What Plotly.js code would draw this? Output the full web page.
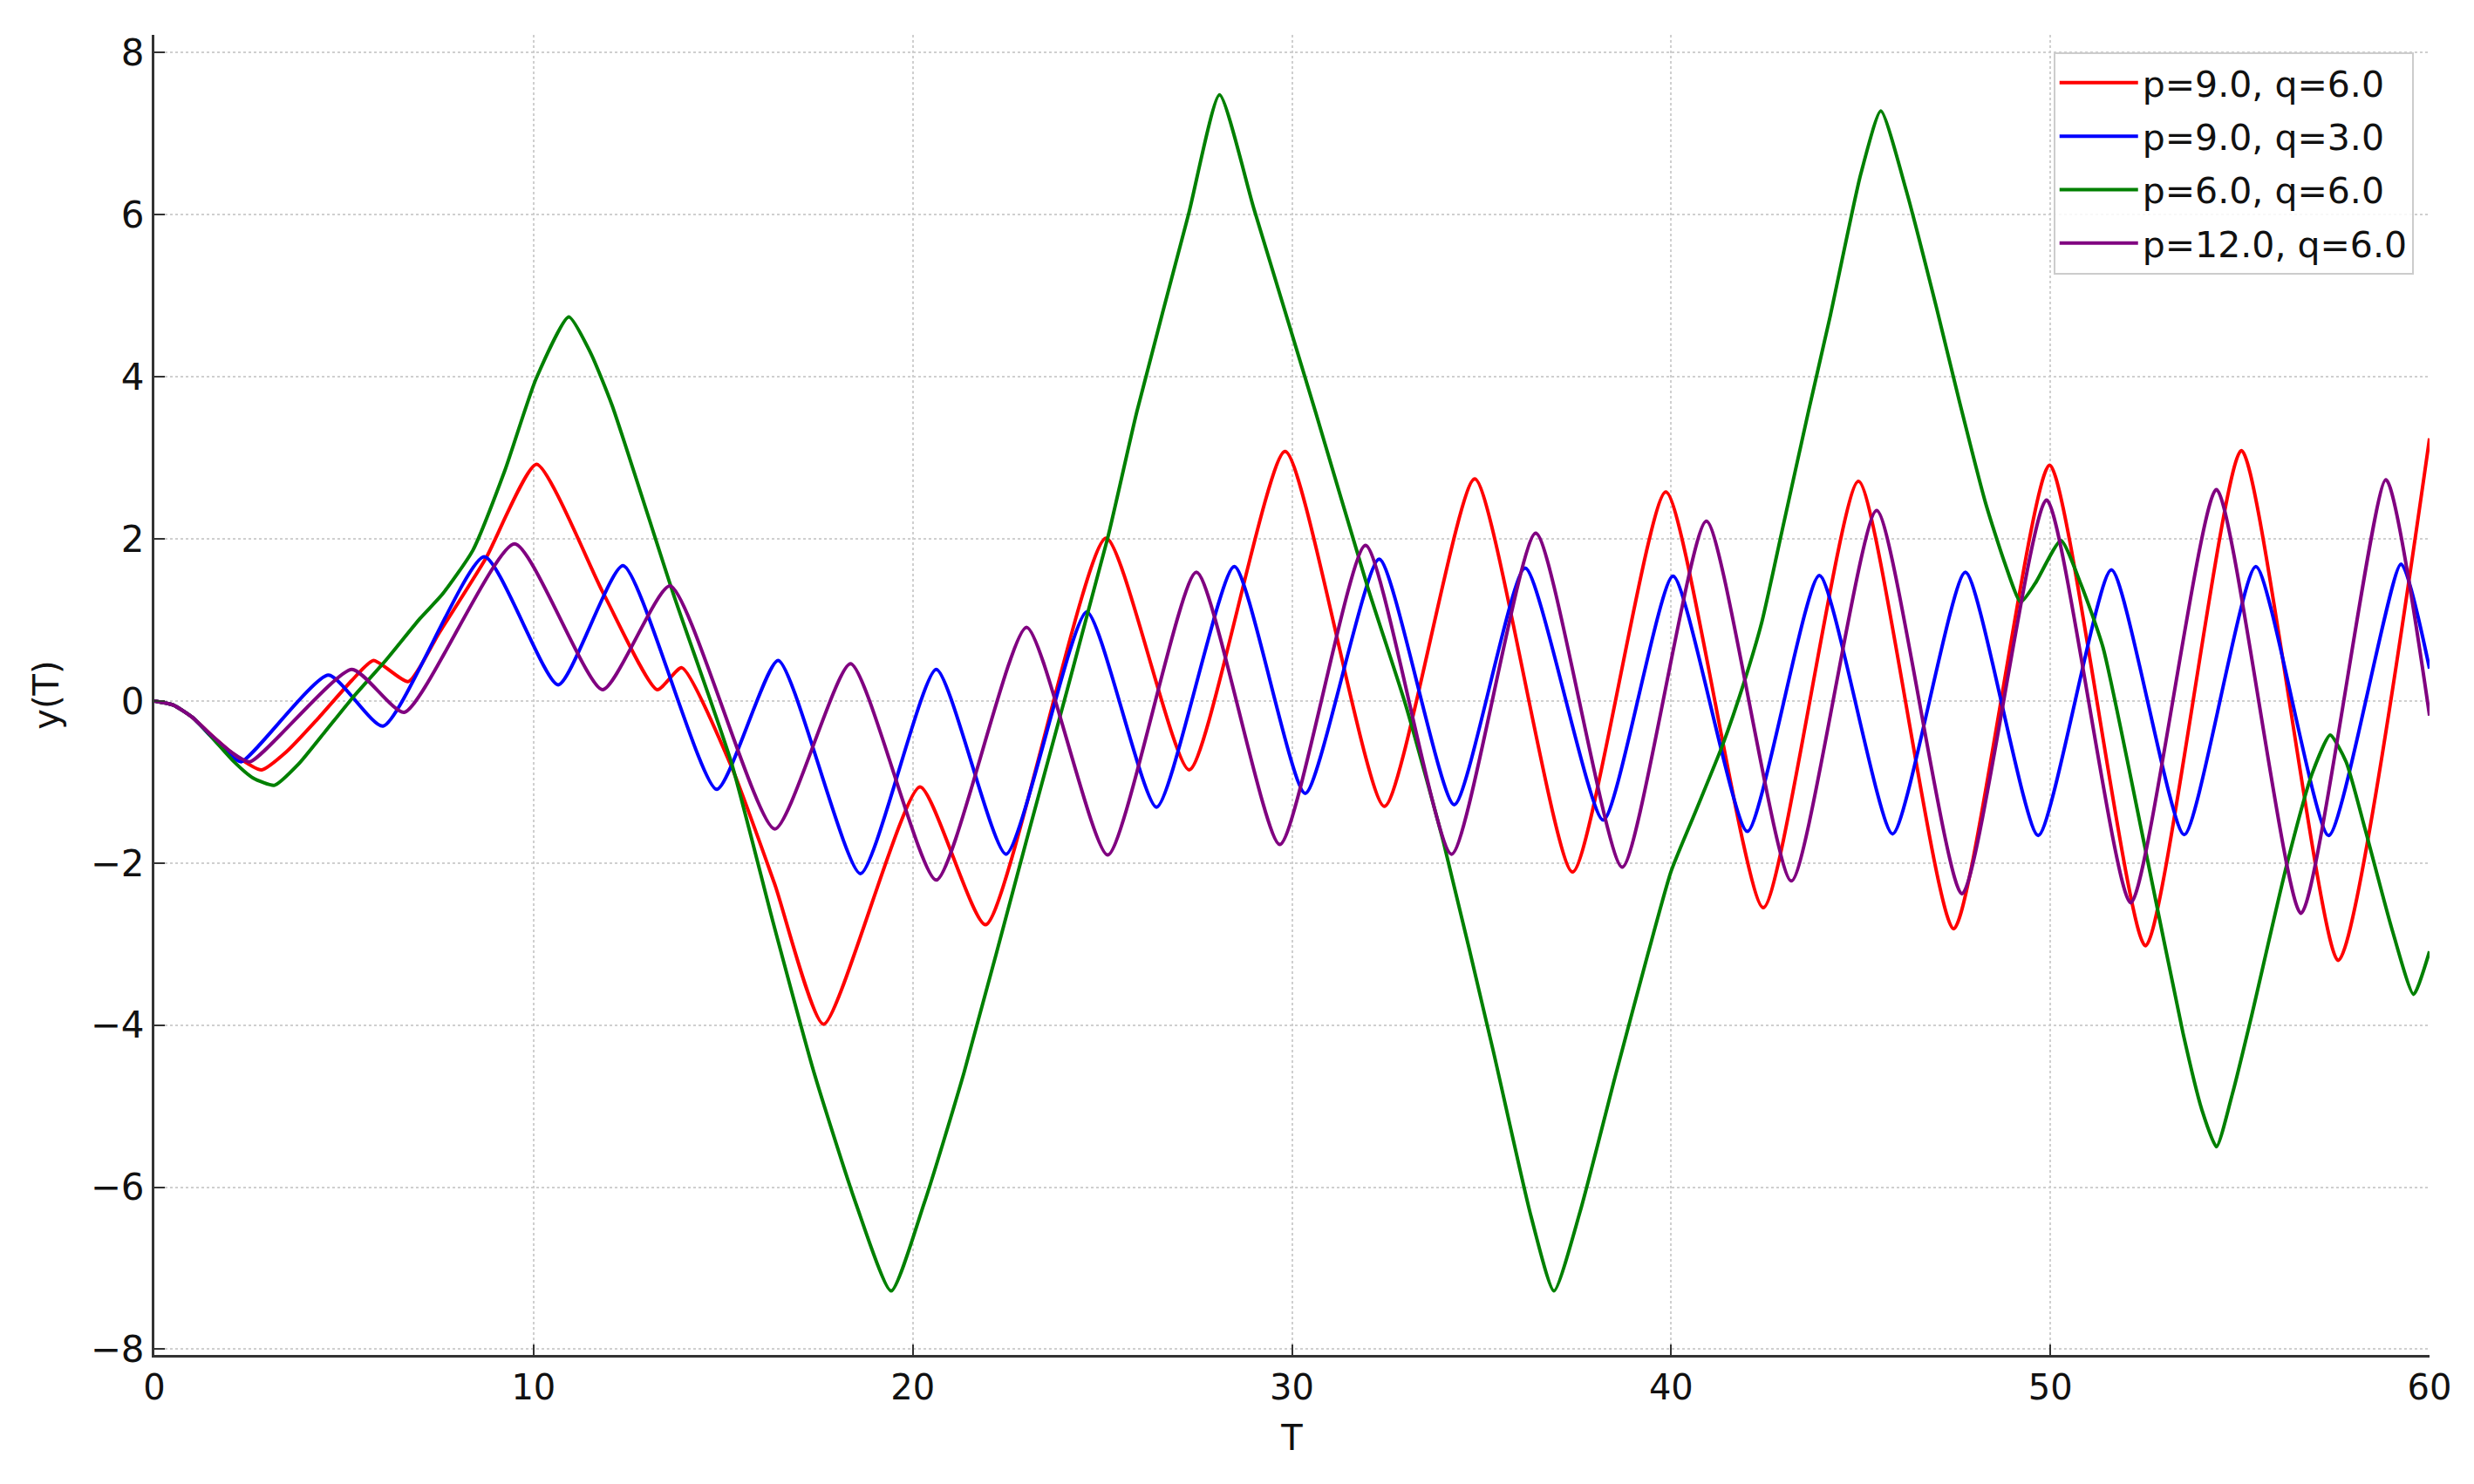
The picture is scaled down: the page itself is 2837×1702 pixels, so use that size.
<!DOCTYPE html>
<html>
<head>
<meta charset="utf-8">
<script src="https://cdn.plot.ly/plotly-3.0.1.min.js"></script>
<style>html,body{margin:0;padding:0;background:#fff;}#chart{width:2837px;height:1702px;}</style>
</head>
<body>
<div id="chart"></div>
<script>
// Series names
const seriesNames = ["p=9.0, q=6.0", "p=9.0, q=3.0", "p=6.0, q=6.0", "p=12.0, q=6.0"];

// p=9.0, q=6.0 (red)
const redT = [0, 0.5, 1.0, 1.5, 2.1, 2.83, 3.5, 4.29, 5.2, 5.78, 6.70, 7.51, 8.73, 10.08, 11.84, 13.26, 13.91, 15.21, 16.36, 17.65, 20.19, 21.92, 25.10, 27.29, 29.82, 32.44, 34.82, 37.40, 39.86, 42.43, 44.94, 47.45, 49.98, 52.51, 55.04, 57.59, 60];
const redY = [0, -0.05, -0.2, -0.42, -0.66, -0.85, -0.62, -0.23, 0.25, 0.50, 0.24, 0.84, 1.75, 2.92, 1.33, 0.14, 0.41, -0.80, -2.26, -3.99, -1.06, -2.76, 2.01, -0.85, 3.08, -1.30, 2.74, -2.11, 2.58, -2.55, 2.71, -2.81, 2.91, -3.02, 3.09, -3.20, 3.24];

// p=9.0, q=3.0 (blue)
const blueT = [0, 0.5, 1.0, 1.5, 1.9, 2.29, 4.59, 6.03, 8.70, 10.65, 12.36, 14.83, 16.45, 18.62, 20.62, 22.46, 24.59, 26.43, 28.48, 30.35, 32.30, 34.28, 36.15, 38.21, 40.05, 42.01, 43.91, 45.84, 47.76, 49.68, 51.61, 53.53, 55.42, 57.34, 59.25, 60];
const blueY = [0, -0.05, -0.2, -0.44, -0.63, -0.75, 0.32, -0.31, 1.78, 0.20, 1.67, -1.09, 0.50, -2.13, 0.39, -1.89, 1.10, -1.31, 1.66, -1.14, 1.75, -1.28, 1.64, -1.47, 1.54, -1.61, 1.55, -1.64, 1.59, -1.66, 1.62, -1.65, 1.66, -1.66, 1.69, 0.40];

// p=6.0, q=6.0 (green)
const greenT = [0, 0.5, 1.0, 1.5, 2.1, 2.6, 3.17, 3.8, 4.5, 5.21, 6.1, 7.01, 7.6, 8.4, 9.24, 10.07, 10.93, 11.5, 12.07, 13.68, 15.21, 16.3, 17.40, 18.5, 19.43, 20.3, 21.35, 23.0, 25.14, 25.91, 27.27, 28.09, 29.0, 30.62, 32.0, 33.0, 34.0, 35.3, 36.3, 36.91, 37.6, 38.55, 39.4, 40.0, 40.63, 41.36, 41.93, 42.39, 42.93, 43.62, 44.2, 45.0, 45.53, 46.2, 47.0, 47.6, 48.3, 48.8, 49.22, 49.6, 50.28, 50.8, 51.39, 52.51, 53.5, 54.0, 54.38, 54.8, 55.3, 56.23, 56.9, 57.38, 57.8, 58.3, 59.0, 59.58, 60];
const greenY = [0, -0.05, -0.2, -0.44, -0.75, -0.95, -1.04, -0.78, -0.38, 0.03, 0.5, 1.02, 1.32, 1.86, 2.84, 3.98, 4.74, 4.3, 3.65, 1.33, -0.75, -2.7, -4.59, -6.2, -7.28, -6.2, -4.59, -1.72, 2.01, 3.57, 6.0, 7.48, 6.07, 3.57, 1.4, -0.05, -1.75, -4.3, -6.35, -7.28, -6.3, -4.59, -3.1, -2.1, -1.38, -0.54, 0.24, 0.97, 2.11, 3.57, 4.76, 6.5, 7.28, 6.3, 4.85, 3.7, 2.43, 1.7, 1.22, 1.45, 1.98, 1.45, 0.66, -1.84, -4.1, -5.05, -5.5, -4.85, -3.9, -2.03, -0.9, -0.42, -0.75, -1.58, -2.8, -3.62, -3.09];

// p=12.0, q=6.0 (purple)
const purpleT = [0, 0.5, 1.0, 1.5, 2.0, 2.52, 5.21, 6.59, 9.50, 11.82, 13.60, 16.36, 18.36, 20.62, 23.0, 25.14, 27.48, 29.68, 31.94, 34.21, 36.43, 38.71, 40.93, 43.17, 45.42, 47.67, 49.90, 52.12, 54.38, 56.61, 58.85, 60];
const purpleY = [0, -0.05, -0.2, -0.42, -0.62, -0.75, 0.39, -0.14, 1.94, 0.14, 1.42, -1.58, 0.46, -2.21, 0.91, -1.90, 1.59, -1.77, 1.92, -1.89, 2.07, -2.05, 2.22, -2.22, 2.35, -2.38, 2.48, -2.49, 2.61, -2.62, 2.73, -0.18];

const xTicks = [0, 10, 20, 30, 40, 50, 60];
const yTicks = [-8, -6, -4, -2, 0, 2, 4, 6, 8];

const colors = ["#ff0000", "#0000ff", "#008000", "#800080"];
const xs = [redT, blueT, greenT, purpleT];
const ys = [redY, blueY, greenY, purpleY];

const traces = seriesNames.map((name, i) => ({
  type: "scatter",
  mode: "lines",
  name: name,
  x: xs[i],
  y: ys[i],
  legendgroup: "g" + i,
  line: {color: colors[i], width: 4, shape: "spline", smoothing: 0.55}
}));

const font = {family: "DejaVu Sans, sans-serif", color: "#111"};

const layout = {
  width: 2837,
  height: 1702,
  paper_bgcolor: "#fff",
  plot_bgcolor: "#fff",
  margin: {l: 177, r: 51, t: 40, b: 148},
  font: Object.assign({size: 40}, font),
  showlegend: true,
  legend: {
    x: 0.993, xanchor: "right", y: 0.987, yanchor: "top",
    bgcolor: "rgba(255,255,255,0.85)",
    bordercolor: "#cccccc", borderwidth: 2,
    font: Object.assign({size: 41}, font),
    tracegroupgap: 5,
    itemwidth: 90
  },
  xaxis: {
    range: [0, 60],
    tickvals: xTicks,
    ticktext: xTicks.map(String),
    ticks: "inside", ticklen: 12, tickwidth: 2, tickcolor: "#333",
    showline: true, linecolor: "#333", linewidth: 3,
    showgrid: true, gridcolor: "#cfcfcf", gridwidth: 2, griddash: "dot",
    zeroline: false,
    tickfont: Object.assign({size: 40}, font),
    title: {text: "T", font: Object.assign({size: 40}, font), standoff: 22}
  },
  yaxis: {
    range: [-8.07, 8.22],
    tickvals: yTicks,
    ticks: "inside", ticklen: 12, tickwidth: 2, tickcolor: "#333",
    showline: true, linecolor: "#333", linewidth: 3,
    showgrid: true, gridcolor: "#cfcfcf", gridwidth: 2, griddash: "dot",
    zeroline: false,
    tickfont: Object.assign({size: 42}, font),
    title: {text: "y(T)", font: Object.assign({size: 40}, font), standoff: 24}
  }
};

Plotly.newPlot("chart", traces, layout, {displayModeBar: false, staticPlot: true});
</script>
</body>
</html>
